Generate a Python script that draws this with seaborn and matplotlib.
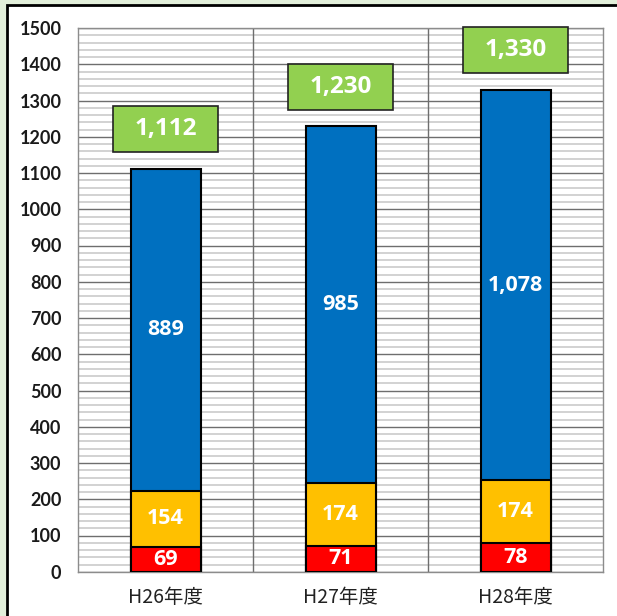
import numpy as np
import pandas as pd
import matplotlib
matplotlib.use("Agg")
import matplotlib.pyplot as plt
from matplotlib.patches import Rectangle
import seaborn as sns

# data
years = ["H26年度", "H27年度", "H28年度"]
red_vals = [69, 71, 78]
orange_vals = [154, 174, 174]
blue_vals = [889, 985, 1078]
totals = [1112, 1230, 1330]

sns.set_theme(style="white")
plt.rcParams["font.family"] = ["Noto Sans CJK JP", "DejaVu Sans"]

df = pd.DataFrame({"year": years, "red": red_vals, "orange": orange_vals, "blue": blue_vals})
df["c_red"] = df["red"]
df["c_orange"] = df["red"] + df["orange"]
df["c_blue"] = df["c_orange"] + df["blue"]

fig = plt.figure(figsize=(6.17, 6.16), dpi=100)
fig.patch.set_facecolor("#e2efda")
# white panel with black frame (runs off right/bottom edge)
fig.patches.append(Rectangle((7 / 617, -0.05), 1.1, 1 - 5 / 616 + 0.05, transform=fig.transFigure,
                             facecolor="white", edgecolor="black", linewidth=2, zorder=-1))

ax = fig.add_axes([78 / 617, 1 - 571.75 / 616, 525 / 617, 543.75 / 616])
ax.set_zorder(2)
ax.set_facecolor("white")

# grid
ax.set_ylim(0, 1500)
ax.set_yticks(np.arange(0, 1501, 100))
ax.set_yticks(np.arange(0, 1501, 20), minor=True)
ax.grid(axis="y", which="minor", color="#cfcfcf", linewidth=1.3, zorder=0)
ax.grid(axis="y", which="major", color="#6e6e6e", linewidth=1.0, zorder=0)
ax.set_axisbelow(True)

# stacked bars: draw cumulative heights largest first
for col, color in [("c_blue", "#0070c0"), ("c_orange", "#ffc000"), ("c_red", "#ff0000")]:
    sns.barplot(data=df, x="year", y=col, color=color, width=0.4, edgecolor="black",
                linewidth=1.5, saturation=1, ax=ax, zorder=3)

ax.set_xlim(-0.5, 2.5)
for xv in [0.5, 1.5]:
    ax.axvline(xv, color="#6e6e6e", linewidth=1.0, zorder=1)
for s in ax.spines.values():
    s.set_color("#8c8c8c")
    s.set_linewidth(1.0)

lab_kw = dict(ha="center", va="center", color="white", fontweight="bold", fontsize=15.5,
              family=["Open Sans", "DejaVu Sans"], zorder=5)
for i in range(len(years)):
    r, o, b = red_vals[i], orange_vals[i], blue_vals[i]
    ax.text(i, r / 2, f"{r:,}", **lab_kw)
    ax.text(i, r + o / 2, f"{o:,}", **lab_kw)
    ax.text(i, r + o + b / 2, f"{b:,}", **lab_kw)
    t = totals[i]
    ax.add_patch(Rectangle((i - 0.3, t + 45), 0.6, 127, facecolor="#92d050", edgecolor="#222222",
                           linewidth=1.2, zorder=4, clip_on=False))
    ax.text(i, t + 45 + 63, f"{t:,}", ha="center", va="center", color="white", fontweight="bold",
            fontsize=17.5, family=["Open Sans", "DejaVu Sans"], zorder=5, clip_on=False)

ax.set_xlabel("")
ax.set_ylabel("")
ax.tick_params(axis="y", length=0, pad=12, labelsize=13)
ax.tick_params(axis="x", length=0, pad=11, labelsize=14, labelcolor="#222222")
for lbl in ax.get_yticklabels():
    lbl.set_fontweight("bold")
    lbl.set_family(["Lato", "DejaVu Sans"])
    lbl.set_color("#1a1a1a")

fig.savefig("out.png", dpi=100, facecolor=fig.get_facecolor())
